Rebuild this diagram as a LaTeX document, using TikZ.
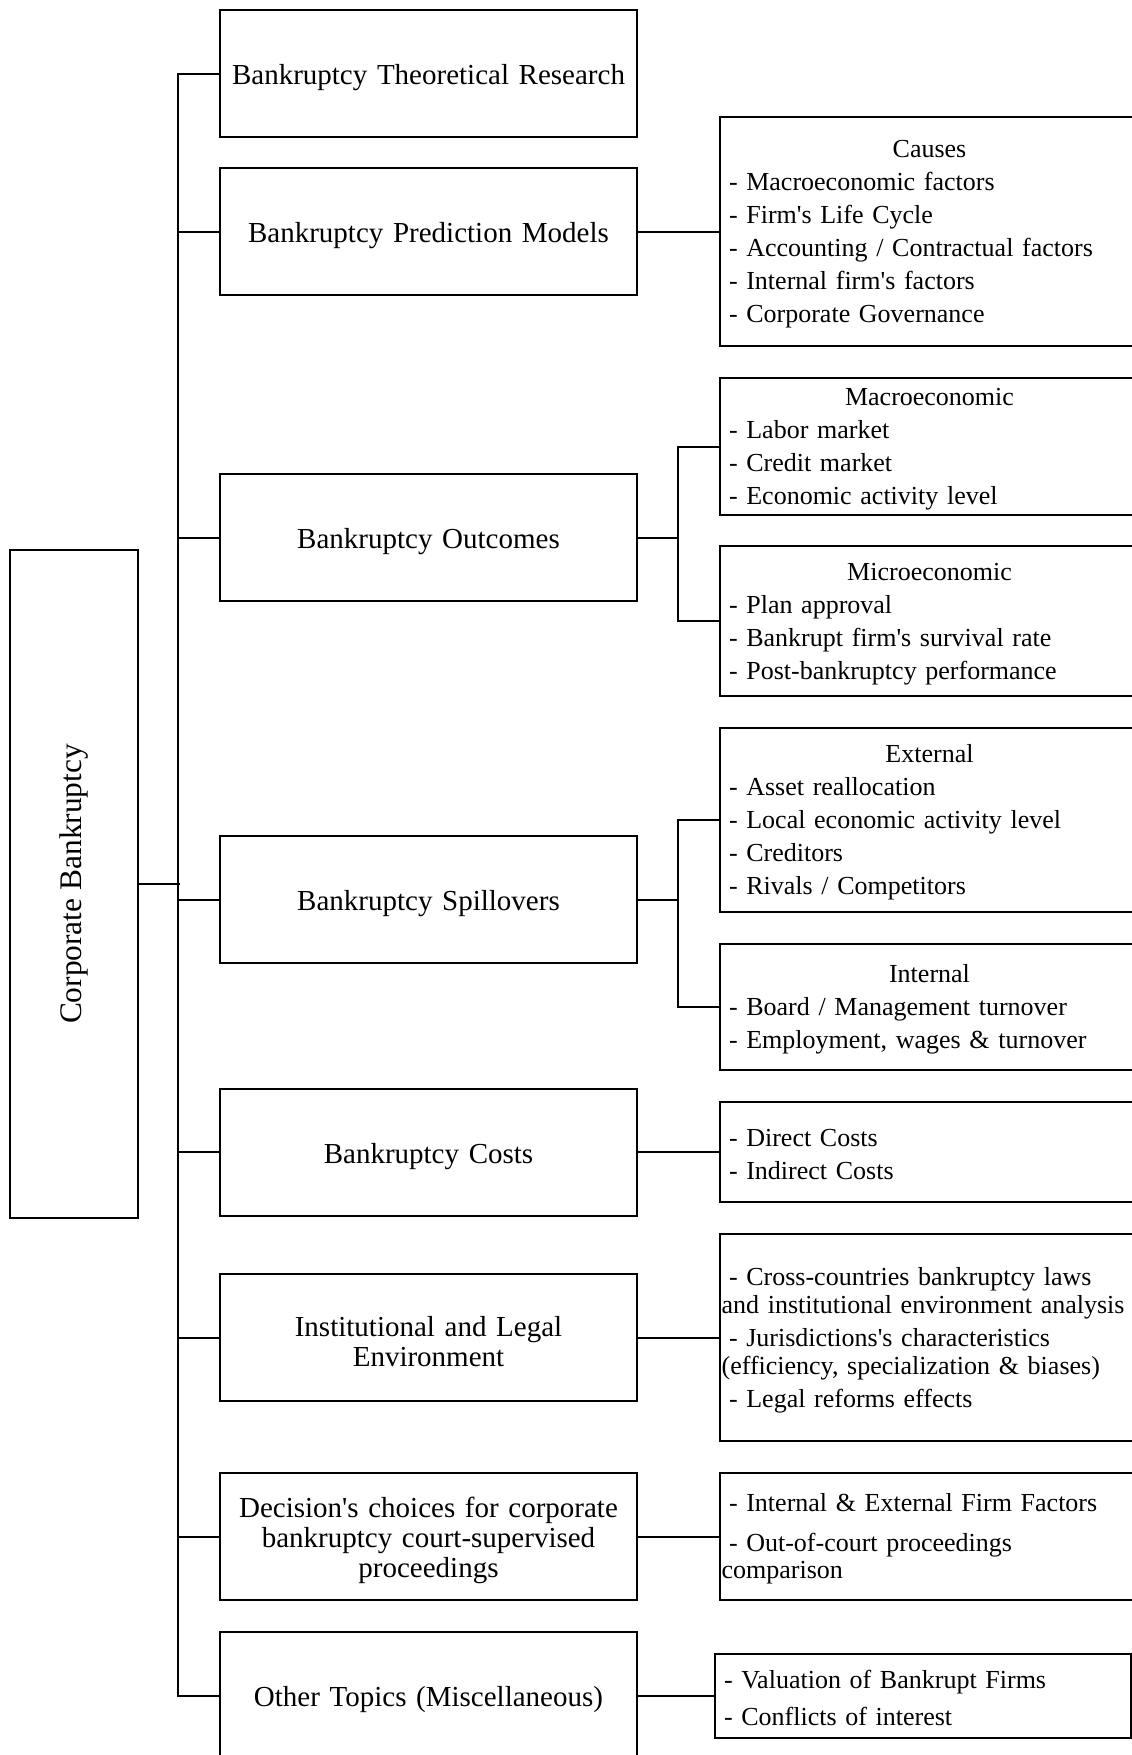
\documentclass[tikz,border=0pt]{standalone}
\usepackage{fontspec}
\setmainfont{Liberation Serif}[Ligatures=TeXOff]
\usepackage{graphicx}

\newcommand{\boxhead}[1]{\makebox[\linewidth]{#1}\\}

\tikzstyle{root}=[draw,line width=0.05cm,shape=rectangle,minimum width=3.2cm,minimum height=16.7cm,font=\fontsize{0.785cm}{0.9cm}\selectfont]
\tikzstyle{topic}=[draw,line width=0.05cm,shape=rectangle,text width=10cm,inner xsep=0.2cm,align=center,minimum width=10.425cm,minimum height=3.175cm,font=\fontsize{0.725cm}{0.75cm}\selectfont,execute at begin node={\rule{0pt}{0.725cm}}]
\tikzstyle{detail}=[draw,line width=0.05cm,shape=rectangle,anchor=west,text width=10.025cm,inner xsep=0.225cm,align=left,font=\fontsize{0.65cm}{0.825cm}\selectfont,execute at begin node=\strut]
\tikzstyle{link}=[line width=0.05cm]

\begin{document}
\begin{tikzpicture}
\path[use as bounding box] (0,0) rectangle (28.275,-43.875);
\node[root] (root) at (1.85,-22.1) {\rotatebox{90}{Corporate Bankruptcy}};
\node[topic] at (10.7125, -1.8375) (theo)  {Bankruptcy Theoretical Research};
\node[topic] at (10.7125, -5.7875) (pred)  {Bankruptcy Prediction Models};
\node[topic] at (10.7125,-13.4375) (outc)  {Bankruptcy Outcomes};
\node[topic] at (10.7125,-22.4875) (spill) {Bankruptcy Spillovers};
\node[topic] at (10.7125,-28.8)    (cost)  {Bankruptcy Costs};
\node[topic] at (10.7125,-33.4375) (inst)  {Institutional and Legal\\Environment};
\node[topic] at (10.7125,-38.4125) (dec)   {Decision's choices for corporate\\bankruptcy court-supervised\\proceedings};
\node[topic] at (10.7125,-42.3875) (misc)  {Other Topics (Miscellaneous)};
\draw[link] (root.east) -- ++(1.025,0);
\draw[link] (theo.west) -- ++(-1.025,0) |- (misc.west);
\draw[link] (pred.west) -- ++(-1.025,0);
\draw[link] (outc.west) -- ++(-1.025,0);
\draw[link] (spill.west) -- ++(-1.025,0);
\draw[link] (cost.west) -- ++(-1.025,0);
\draw[link] (inst.west) -- ++(-1.025,0);
\draw[link] (dec.west) -- ++(-1.025,0);
% right column
\node[detail,minimum height=5.725cm] at (17.975, -5.7875) (pred-d)
  {\boxhead{Causes}- Macroeconomic factors\\- Firm's Life Cycle\\- Accounting / Contractual factors\\- Internal firm's factors\\- Corporate Governance};
\draw[link] (pred.east) -- (pred-d.west);
\node[detail,minimum height=3.425cm] at (17.975,-11.1625) (outc-macro)
  {\boxhead{Macroeconomic}- Labor market\\- Credit market\\- Economic activity level};
\node[detail,minimum height=3.75cm] at (17.975,-15.525) (outc-micro)
  {\boxhead{Microeconomic}- Plan approval\\- Bankrupt firm's survival rate\\- Post-bankruptcy performance};
\draw[link] (outc.east) -- ++(1.025,0);
\draw[link] (outc-macro.west) -- ++(-1.025,0) |- (outc-micro.west);
\node[detail,minimum height=4.6cm] at (17.975,-20.5) (spill-ext)
  {\boxhead{External}- Asset reallocation\\- Local economic activity level\\- Creditors\\- Rivals / Competitors};
\node[detail,minimum height=3.15cm] at (17.975,-25.175) (spill-int)
  {\boxhead{Internal}- Board / Management turnover\\- Employment, wages \& turnover};
\draw[link] (spill.east) -- ++(1.025,0);
\draw[link] (spill-ext.west) -- ++(-1.025,0) |- (spill-int.west);
\node[detail,minimum height=2.5cm] at (17.975,-28.8) (cost-d)
  {- Direct Costs\\- Indirect Costs};
\draw[link] (cost.east) -- (cost-d.west);
\node[detail,minimum height=5.175cm,text width=10.395cm,inner xsep=0.04cm] at (17.975,-33.4375) (inst-d)
  {\hspace*{0.185cm}- Cross-countries bankruptcy laws\\[-0.125cm]and institutional environment analysis\\\hspace*{0.185cm}- Jurisdictions's characteristics\\[-0.125cm](efficiency, specialization \& biases)\\\hspace*{0.185cm}- Legal reforms effects};
\draw[link] (inst.east) -- (inst-d.west);
\node[detail,minimum height=3.175cm,text width=10.395cm,inner xsep=0.04cm] at (17.975,-38.4125) (dec-d)
  {\hspace*{0.185cm}- Internal \& External Firm Factors\\[0.175cm]\hspace*{0.185cm}- Out-of-court proceedings\\[-0.15cm]comparison};
\draw[link] (dec.east) -- (dec-d.west);
\node[detail,minimum height=2.1cm,text width=9.95cm] at (17.85,-42.3875) (misc-d)
  {- Valuation of Bankrupt Firms\\[0.1cm]- Conflicts of interest};
\draw[link] (misc.east) -- (misc-d.west);
\end{tikzpicture}
\end{document}
